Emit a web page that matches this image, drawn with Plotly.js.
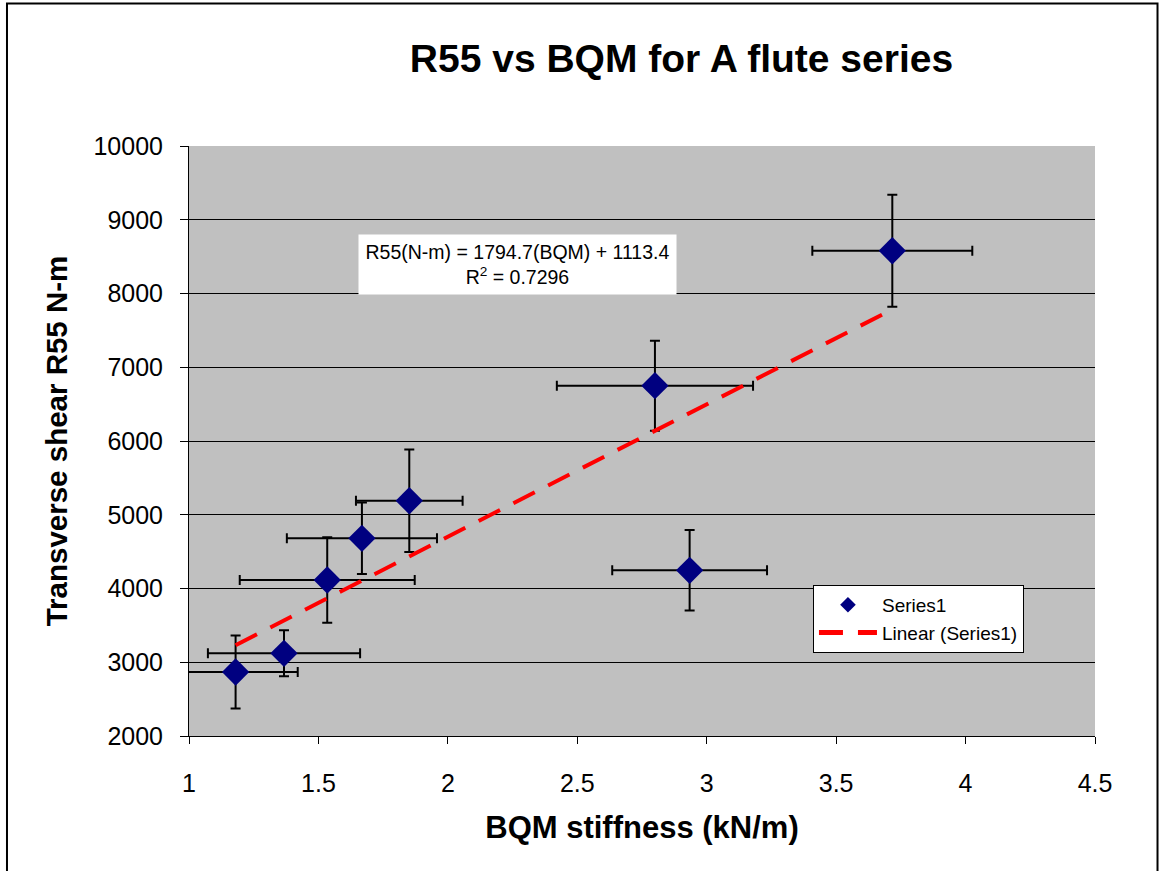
<!DOCTYPE html>
<html>
<head>
<meta charset="utf-8">
<script src="https://cdn.plot.ly/plotly-3.0.1.min.js"></script>
<style>
  html, body { margin: 0; padding: 0; background: #ffffff; overflow: hidden; }
  #chart { width: 1164px; height: 871px; }
</style>
</head>
<body>
<div id="chart"></div>
<script>
// ---- data ----
const bqm      = [1.18, 1.367, 1.534, 1.668, 1.851, 2.800, 2.934, 3.717];
const r55      = [2868, 3121, 4115, 4681, 5190, 6750, 4247, 8580];
const r55Err   = [495, 312, 579, 484, 696, 610, 545, 759];
const bqmErr   = [0.24, 0.294, 0.338, 0.290, 0.206, 0.379, 0.299, 0.309];

// Linear trendline coefficients printed on the chart
const slope = 1794.7;
const intercept = 1113.4;
const rSquared = 0.7296;

const xTicks = [1, 1.5, 2, 2.5, 3, 3.5, 4, 4.5];
const yTicks = [2000, 3000, 4000, 5000, 6000, 7000, 8000, 9000, 10000];

const trendX = [Math.min(...bqm), Math.max(...bqm)];
const trendY = trendX.map(v => slope * v + intercept);

const FONT = '"Liberation Sans", Arial, Helvetica, sans-serif';

const series = {
  x: bqm, y: r55, type: 'scatter', mode: 'markers', name: 'Series1',
  marker: { symbol: 'diamond', size: 21, color: '#000080' },
  error_y: { type: 'data', array: r55Err, visible: true, color: '#000000', thickness: 2, width: 5 },
  error_x: { type: 'data', array: bqmErr, visible: true, color: '#000000', thickness: 2, width: 5 },
  cliponaxis: false
};

const trend = {
  x: trendX, y: trendY, type: 'scatter', mode: 'lines', name: 'Linear (Series1)',
  line: { color: '#ff0000', width: 4, dash: '24px,15px' }
};

const layout = {
  width: 1164, height: 871,
  margin: { l: 189, r: 69, t: 146, b: 135 },
  paper_bgcolor: '#ffffff',
  plot_bgcolor: '#c0c0c0',
  font: { family: FONT, color: '#000000' },
  showlegend: true,
  title: {
    text: 'R55 vs BQM for A flute series',
    font: { family: FONT, size: 39, weight: 'bold', color: '#000000' },
    xref: 'paper', x: 0.5436, xanchor: 'center',
    yref: 'container', y: 0.933, yanchor: 'middle'
  },
  xaxis: {
    range: [1, 4.5], tickvals: xTicks, ticktext: xTicks.map(String),
    showgrid: false, zeroline: false,
    showline: true, linecolor: '#000000', linewidth: 1,
    ticks: 'outside', ticklen: 7, tickcolor: '#000000', tickwidth: 1,
    tickfont: { family: FONT, size: 25 }, ticklabelstandoff: 18,
    title: { text: 'BQM stiffness (kN/m)', font: { family: FONT, size: 31, weight: 'bold' }, standoff: 20 }
  },
  yaxis: {
    range: [2000, 10000], tickvals: yTicks, ticktext: yTicks.map(String),
    showgrid: true, gridcolor: '#000000', gridwidth: 1, zeroline: false,
    showline: true, linecolor: '#000000', linewidth: 1,
    ticks: 'outside', ticklen: 8, tickcolor: '#000000', tickwidth: 1,
    tickfont: { family: FONT, size: 25 }, ticklabelstandoff: 12,
    title: { text: 'Transverse shear R55 N-m', font: { family: FONT, size: 29.5, weight: 'bold' }, standoff: 17 }
  },
  legend: {
    x: 0.6887, y: 0.256, xanchor: 'left', yanchor: 'top',
    bgcolor: '#ffffff', bordercolor: '#000000', borderwidth: 1,
    font: { family: FONT, size: 19 }, itemsizing: 'constant', itemwidth: 58,
    tracegroupgap: 0
  },
  annotations: [{
    xref: 'x', yref: 'y', x: 2.269, y: 8393,
    text: 'R55(N-m) = ' + slope.toFixed(1) + '(BQM) + ' + intercept.toFixed(1) + '<br>R<sup>2</sup> = ' + rSquared,
    showarrow: false, bgcolor: '#ffffff', font: { family: FONT, size: 19.5 },
    width: 313, height: 55, borderpad: 2, align: 'center'
  }],
  shapes: [{
    type: 'rect', xref: 'paper', yref: 'paper',
    x0: -0.2009, x1: 1.0690, y0: -0.4, y1: 1.2415,
    line: { color: '#000000', width: 2 }, fillcolor: 'rgba(0,0,0,0)', layer: 'above'
  }]
};

Plotly.newPlot('chart', [series, trend], layout, { displayModeBar: false, staticPlot: true });
</script>
</body>
</html>
